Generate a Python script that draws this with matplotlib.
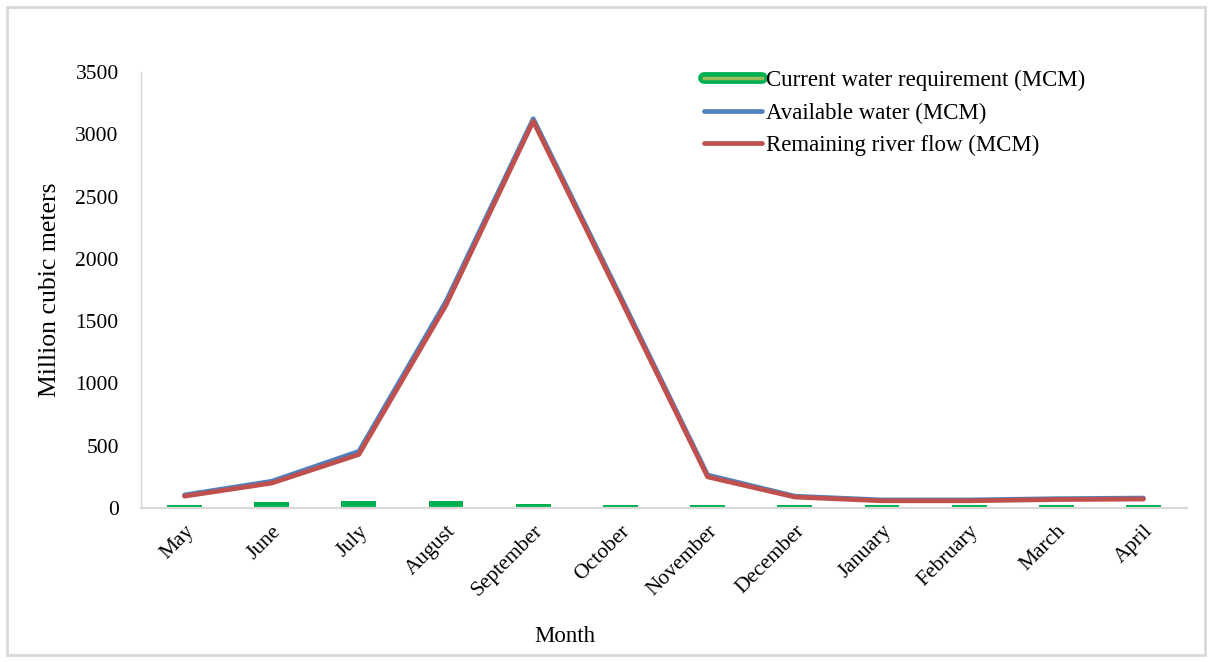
import matplotlib

matplotlib.use("Agg")
import matplotlib.pyplot as plt
from matplotlib.lines import Line2D
from matplotlib.patches import Rectangle
import numpy as np

months = ["May", "June", "July", "August", "September", "October",
          "November", "December", "January", "February", "March", "April"]
requirement = [25, 45, 60, 60, 35, 25, 25, 22, 22, 22, 25, 22]
available = [105, 215, 455, 1660, 3125, 1700, 265, 95, 65, 65, 75, 80]
remaining = [95, 200, 430, 1630, 3105, 1680, 250, 88, 58, 58, 68, 72]

GREEN = "#00B050"
LIGHT_GREEN = "#9BBB59"
BLUE = "#4F81BD"
RED = "#C0504D"
GREY = "#D9D9D9"

plt.rcParams["font.family"] = ["Liberation Serif", "DejaVu Serif"]

fig = plt.figure(figsize=(12.14, 6.62), dpi=100)
ax = fig.add_axes([0.1161, 0.2326, 0.8617, 0.6586])

x = np.arange(len(months))
ax.bar(x, requirement, width=0.4, color=GREEN, zorder=2)
ax.plot(x, available, color=BLUE, lw=3.4, solid_capstyle="round",
        solid_joinstyle="round", zorder=3)
ax.plot(x, remaining, color=RED, lw=3.4, solid_capstyle="round",
        solid_joinstyle="round", zorder=4)

ax.set_xlim(-0.5, len(months) - 0.5)
ax.set_ylim(0, 3500)
ax.set_yticks(range(0, 3501, 500))
ax.set_xticks(x)
ax.set_xticklabels(months, rotation=45, ha="right", rotation_mode="anchor")
ax.tick_params(axis="both", length=0, labelsize=15.5)
ax.tick_params(axis="y", pad=16)
ax.tick_params(axis="x", pad=10)

for side in ("top", "right"):
    ax.spines[side].set_visible(False)
ax.spines["left"].set_color(GREY)
ax.spines["left"].set_linewidth(1.0)
ax.spines["bottom"].set_color(GREY)
ax.spines["bottom"].set_linewidth(1.6)

ax.set_ylabel("Million cubic meters", fontsize=18.5, labelpad=10)
fig.text(565 / 1214, 1 - 636 / 662, "Month", fontsize=16.5,
         ha="center", va="center")

req_handle = (Line2D([], [], color=GREEN, lw=8.5, solid_capstyle="round"),
              Line2D([], [], color=LIGHT_GREEN, lw=2.5))
handles = [req_handle,
           Line2D([], [], color=BLUE, lw=3.4, solid_capstyle="round"),
           Line2D([], [], color=RED, lw=3.4, solid_capstyle="round")]
labels = ["Current water requirement (MCM)", "Available water (MCM)",
          "Remaining river flow (MCM)"]
fig.legend(handles, labels, loc="upper left",
           bbox_to_anchor=(704 / 1214, 1 - 70 / 662), frameon=False,
           fontsize=16.5, handlelength=2.55, handletextpad=0.15,
           labelspacing=0.5, borderpad=0, borderaxespad=0)

fig.patches.append(Rectangle((7 / 1214, 7 / 662), 1198 / 1214, 648 / 662,
                             transform=fig.transFigure, fill=False,
                             edgecolor=GREY, lw=2))

fig.savefig("out.png", dpi=100)
